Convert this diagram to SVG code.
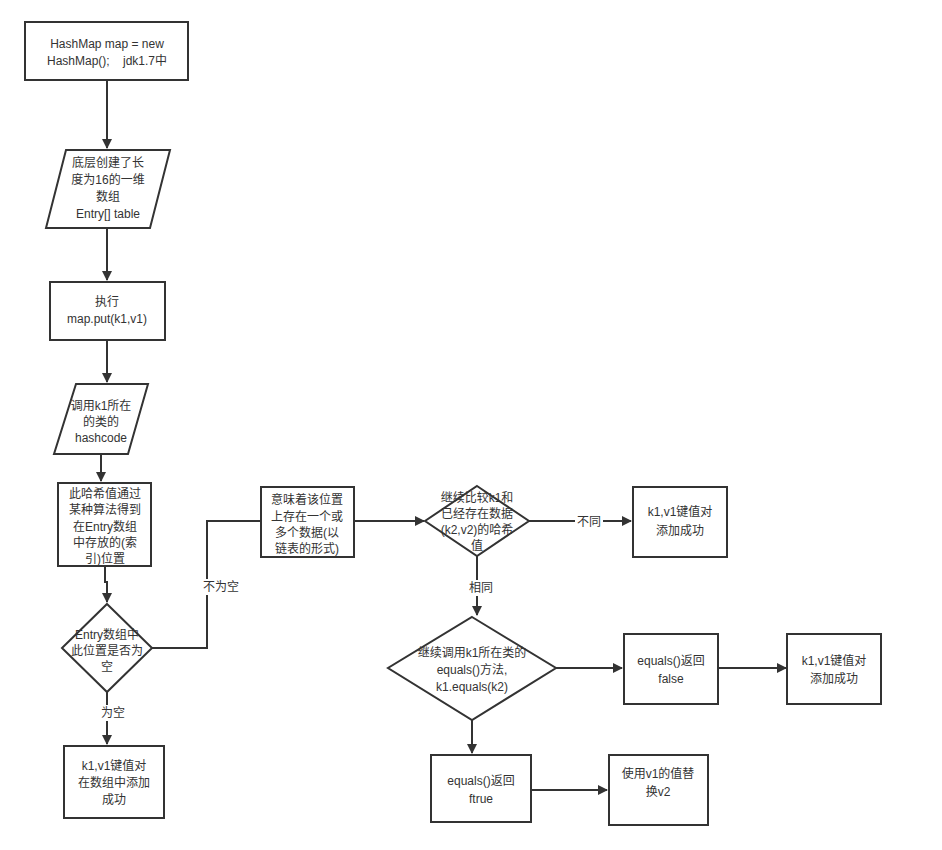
<svg xmlns="http://www.w3.org/2000/svg" width="942" height="850" viewBox="0 0 942 850">
<defs><marker id="a" viewBox="0 0 10 10" refX="9" refY="5" markerWidth="10" markerHeight="10" markerUnits="userSpaceOnUse" orient="auto"><path d="M0,0L10,5L0,10Z" fill="#333"/></marker>
<style>
.n{fill:#fff;stroke:#333;stroke-width:2}
text{font-family:"Liberation Sans","Noto Sans CJK SC",sans-serif;font-size:12px;fill:#333;text-anchor:middle}
.c{fill:none;stroke:#333;stroke-width:2;marker-end:url(#a)}
.l{fill:#fff}
</style></defs>
<rect width="942" height="850" fill="#fff"/>
<g id="edges">
<path class="c" d="M107,80V148"/>
<path class="c" d="M107,228V280"/>
<path class="c" d="M107,340V382"/>
<path class="c" d="M101,454V481"/>
<path class="c" d="M105,566V582H107V602"/>
<path class="c" d="M152,648H207V521H276"/>
<rect class="l" x="200" y="579" width="42" height="16"/><text x="221" y="591">不为空</text>
<path class="c" d="M107,692V744"/>
<rect class="l" x="99" y="705" width="28" height="16"/><text x="113" y="717">为空</text>
<path class="c" d="M354,521H424"/>
<path class="c" d="M529,521H631"/>
<rect class="l" x="575" y="514" width="28" height="16"/><text x="589" y="526">不同</text>
<path class="c" d="M477,556V615"/>
<rect class="l" x="467" y="580" width="28" height="16"/><text x="481" y="592">相同</text>
<path class="c" d="M556,668H622"/>
<path class="c" d="M718,668H786"/>
<path class="c" d="M472,720V753"/>
<path class="c" d="M531,790H607"/>
</g>
<g id="n1"><rect class="n" x="25" y="22" width="163" height="58"/><text x="107" y="48">HashMap map = new</text><text x="107" y="65">HashMap();&#160;&#160;&#160; jdk1.7中</text></g>
<g id="n2"><path class="n" d="M66,150H170L150,228H46Z"/><text x="108" y="167">底层创建了长</text><text x="108" y="184">度为16的一维</text><text x="108" y="201">数组</text><text x="108" y="218">Entry[] table</text></g>
<g id="n3"><rect class="n" x="50" y="282" width="115" height="58"/><text x="107" y="306">执行</text><text x="107" y="323">map.put(k1,v1)</text></g>
<g id="n4"><path class="n" d="M76,384H148L128,454H54Z"/><text x="101" y="410">调用k1所在</text><text x="101" y="426">的类的</text><text x="101" y="442">hashcode</text></g>
<g id="n5"><rect class="n" x="58" y="483" width="93" height="83"/><text x="105" y="498">此哈希值通过</text><text x="105" y="514">某种算法得到</text><text x="105" y="531">在Entry数组</text><text x="105" y="547">中存放的(索</text><text x="105" y="563">引)位置</text></g>
<g id="n6"><path class="n" d="M107,604L152,648L107,692L62,648Z"/><text x="107" y="639">Entry数组中</text><text x="107" y="655">此位置是否为</text><text x="107" y="671">空</text></g>
<g id="n7"><rect class="n" x="64" y="746" width="100" height="72"/><text x="114" y="770">k1,v1键值对</text><text x="114" y="787">在数组中添加</text><text x="114" y="804">成功</text></g>
<g id="n8"><rect class="n" x="261" y="487" width="93" height="70"/><text x="307" y="504">意味着该位置</text><text x="307" y="521">上存在一个或</text><text x="307" y="537">多个数据(以</text><text x="307" y="553">链表的形式)</text></g>
<g id="n9"><path class="n" d="M477,486L529,521L477,556L425,521Z"/><text x="477" y="502">继续比较k1和</text><text x="477" y="518">已经存在数据</text><text x="477" y="534">(k2,v2)的哈希</text><text x="477" y="550">值</text></g>
<g id="n10"><rect class="n" x="633" y="487" width="94" height="70"/><text x="680" y="516">k1,v1键值对</text><text x="680" y="535">添加成功</text></g>
<g id="n11"><path class="n" d="M472,617L556,668L472,720L388,668Z"/><text x="472" y="657">继续调用k1所在类的</text><text x="472" y="674">equals()方法,</text><text x="472" y="691">k1.equals(k2)</text></g>
<g id="n12"><rect class="n" x="624" y="634" width="94" height="70"/><text x="671" y="665">equals()返回</text><text x="671" y="683">false</text></g>
<g id="n13"><rect class="n" x="787" y="634" width="94" height="70"/><text x="834" y="665">k1,v1键值对</text><text x="834" y="683">添加成功</text></g>
<g id="n14"><rect class="n" x="431" y="755" width="100" height="67"/><text x="481" y="785">equals()返回</text><text x="481" y="803">ftrue</text></g>
<g id="n15"><rect class="n" x="609" y="755" width="99" height="70"/><text x="658" y="778">使用v1的值替</text><text x="658" y="796">换v2</text></g>
</svg>
